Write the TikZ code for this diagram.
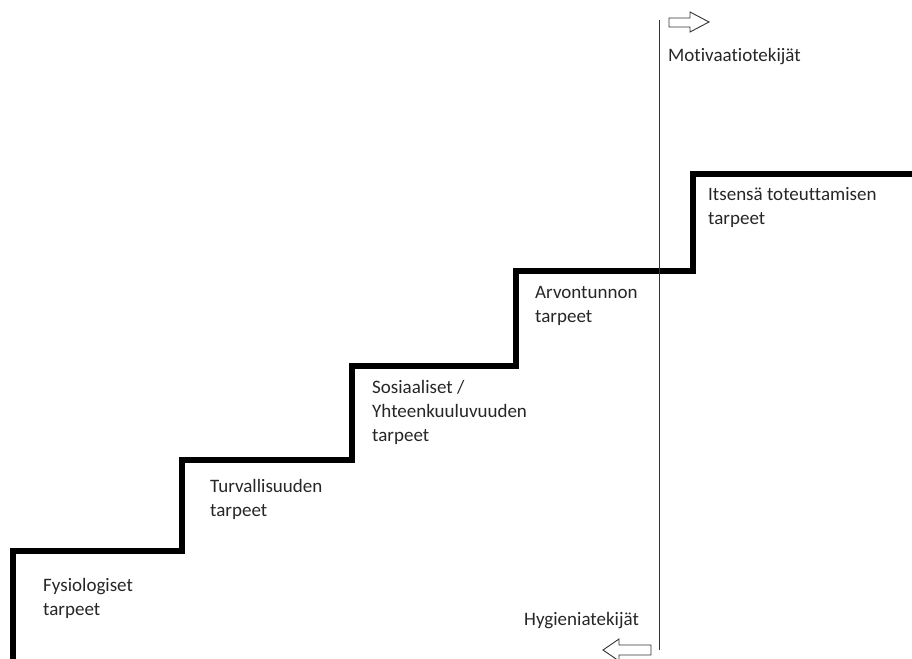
\documentclass[tikz,border=0pt]{standalone}
\usepackage{fontspec}
\setmainfont[Ligatures={NoCommon}]{Carlito}
\begin{document}
\begin{tikzpicture}[x=1pt,y=-1pt,
  lbl/.style={anchor=west,inner sep=0pt,align=left,font=\fontsize{19}{24}\selectfont,text=black!85},
  stair/.style={line width=5.5pt,line join=miter},
  hollow/.style={draw=black!80,fill=white,line width=0.9pt,line join=miter}]
\useasboundingbox (0,0) rectangle (912,658);
\draw[stair] (13,660) -- (13,551) -- (182,551) -- (182,460) -- (352,460) -- (352,366) -- (516,366) -- (516,271) -- (693,271) -- (693,174) -- (914,174);
\coordinate (ltop) at (659,20);
\coordinate (lbot) at (659,650);
\draw[line width=0.9pt,black!80] (ltop) -- (lbot);
\draw[hollow] (669,18) -- (690,18) -- (690,12) -- (709,22) -- (690,32) -- (690,27) -- (669,27) -- cycle;
\draw[hollow] (651,645) -- (619,645) -- (619,639) -- (603,650) -- (619,661) -- (619,655) -- (651,655) -- cycle;
\node[lbl,anchor=north west] (fys) at (43,578) {Fysiologiset\\tarpeet};
\node[lbl,anchor=north west] (tur) at (210,479) {Turvallisuuden\\tarpeet};
\node[lbl,anchor=north west] (sos) at (372,380) {Sosiaaliset /\\Yhteenkuuluvuuden\\tarpeet};
\node[lbl,anchor=north west] (arv) at (535,286) {Arvontunnon\\tarpeet};
\node[lbl,anchor=north west] (its) at (708,187) {Itsensä toteuttamisen\\tarpeet};
\node[lbl] (mot) at (668,57) {Motivaatiotekijät};
\node[lbl] (hyg) at (524,621) {Hygieniatekijät};
\end{tikzpicture}
\end{document}
